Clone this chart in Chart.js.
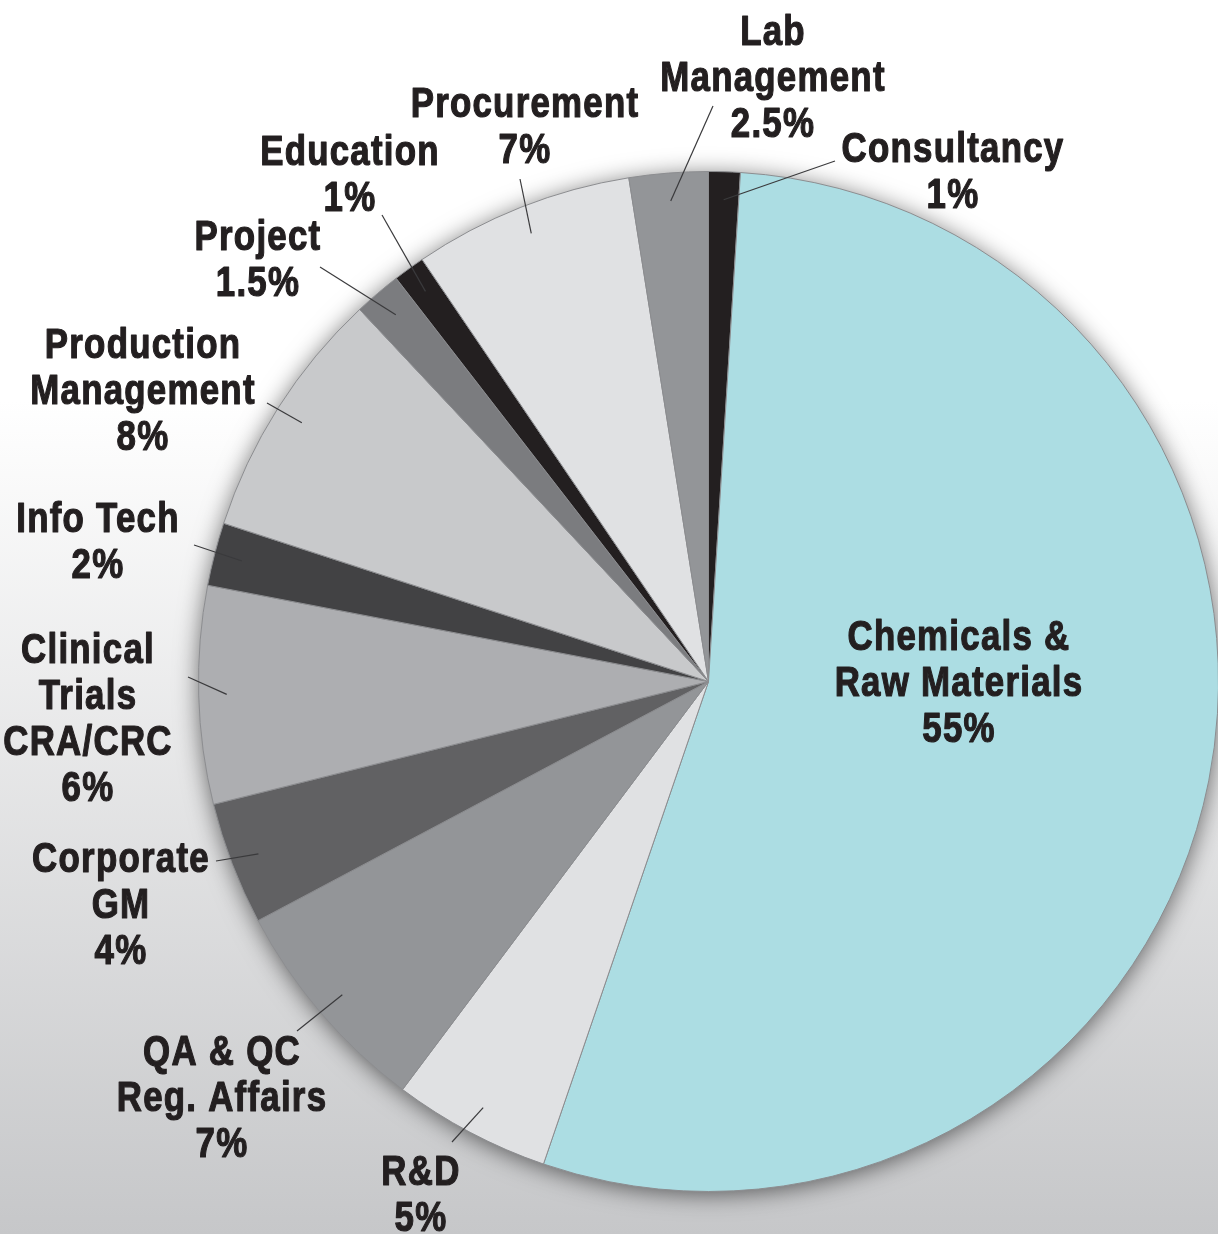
<!DOCTYPE html>
<html>
<head>
<meta charset="utf-8">
<script src="https://cdn.jsdelivr.net/npm/chart.js@4.4.0/dist/chart.umd.min.js"></script>
<style>
    html, body {
        margin: 0;
        padding: 0;
        overflow: hidden;
    }
    body {
        width: 1218px;
        height: 1234px;
        background: linear-gradient(to bottom, #ffffff 0px, #ffffff 400px, #c6c7c9 1234px);
    }
    canvas { display: block; }
</style>
</head>
<body>
<canvas id="sectorChart" width="1240" height="1234"></canvas>
<script>

    // clockwise from 12 o'clock
    const sectors = [
        ['Consultancy'],
        ['Chemicals &', 'Raw Materials'],
        ['R&D'],
        ['QA & QC', 'Reg. Affairs'],
        ['Corporate', 'GM'],
        ['Clinical', 'Trials', 'CRA/CRC'],
        ['Info Tech'],
        ['Production', 'Management'],
        ['Project'],
        ['Education'],
        ['Procurement'],
        ['Lab', 'Management']
    ];
    // slice sizes as drawn in the picture
    const shares = [1, 54.3, 5, 7, 3.9, 6.9, 2, 8, 1.5, 1, 7, 2.5];
    // percentages as printed on the labels
    const shareText = ['1%', '55%', '5%', '7%', '4%', '6%', '2%', '8%', '1.5%', '1%', '7%', '2.5%'];

    const sliceColors = [
        '#231f20', '#acdde3', '#e0e1e3', '#939598', '#616163', '#adaeb1',
        '#424244', '#c8c9cb', '#7b7c7f', '#231f20', '#e0e1e3', '#939598'
    ];

    // where each label sits: text centre x, first baseline y, leader line outer end
    const labelSpots = [
        {x: 953, y: 162, lx: 835, ly: 161},
        {x: 959, y: 650, lx: null, ly: null},
        {x: 421, y: 1185, lx: 452, ly: 1142},
        {x: 222, y: 1065, lx: 297, ly: 1031},
        {x: 121, y: 872, lx: 216, ly: 861},
        {x: 88, y: 663, lx: 188, ly: 677},
        {x: 98, y: 532, lx: 194, ly: 545},
        {x: 143, y: 358, lx: 267, ly: 403},
        {x: 258, y: 250, lx: 320, ly: 267},
        {x: 350, y: 165, lx: 382, ly: 215},
        {x: 525, y: 117, lx: 520, ly: 179},
        {x: 773, y: 45, lx: 713, ly: 106}
    ];

    const pieShadow = {
        id: 'pieShadow',
        beforeDatasetsDraw: function (chart) {
            const arc = chart.getDatasetMeta(0).data[0];
            const c = chart.ctx;
            c.save();
            c.shadowColor = 'rgba(0, 0, 0, 0.6)';
            c.shadowBlur = 24;
            c.shadowOffsetY = 3;
            c.fillStyle = '#999a9c';
            c.beginPath();
            c.arc(arc.x, arc.y, arc.outerRadius - 1, 0, Math.PI * 2);
            c.fill();
            c.restore();
        }
    };

    const sliceLabels = {
        id: 'sliceLabels',
        afterDatasetsDraw: function (chart) {
            const c = chart.ctx;
            const arcs = chart.getDatasetMeta(0).data;
            const lineH = 46;
            c.save();
            arcs.forEach(function (arc, i) {
                const spot = labelSpots[i];
                if (spot.lx !== null) {
                    const mid = (arc.startAngle + arc.endAngle) / 2;
                    const r = arc.outerRadius * 0.945;
                    c.strokeStyle = '#3a3a3c';
                    c.lineWidth = 1.2;
                    c.beginPath();
                    c.moveTo(spot.lx, spot.ly);
                    c.lineTo(arc.x + Math.cos(mid) * r, arc.y + Math.sin(mid) * r);
                    c.stroke();
                }
                const lines = sectors[i].concat([shareText[i]]);
                c.fillStyle = '#231f20';
                c.strokeStyle = '#231f20';
                c.lineWidth = 1.2;
                c.lineJoin = 'round';
                c.font = 'bold 42px "Liberation Sans", Arial, sans-serif';
                c.letterSpacing = '1.5px';
                c.textAlign = 'center';
                c.textBaseline = 'alphabetic';
                lines.forEach(function (t, k) {
                    // condensed look: squeeze the glyphs sideways, thicken a bit
                    c.save();
                    c.translate(spot.x, spot.y + k * lineH);
                    c.scale(0.83, 1);
                    c.fillText(t, 0, 0);
                    c.strokeText(t, 0, 0);
                    c.restore();
                });
            });
            c.restore();
        }
    };

    const ctx = document.getElementById('sectorChart').getContext('2d');

    const sectorChart = new Chart(ctx, {
        type: 'pie',
        data: {
            labels: sectors,
            datasets: [{
                data: shares,
                backgroundColor: sliceColors,
                borderColor: '#8c8d90',
                borderWidth: 1
            }]
        },
        options: {
            responsive: false,
            animation: false,
            layout: {
                padding: {left: 198, right: 21, top: 171, bottom: 42}
            },
            plugins: {
                legend: {display: false},
                tooltip: {enabled: false}
            }
        },
        plugins: [pieShadow, sliceLabels]
    });

</script>
</body>
</html>
